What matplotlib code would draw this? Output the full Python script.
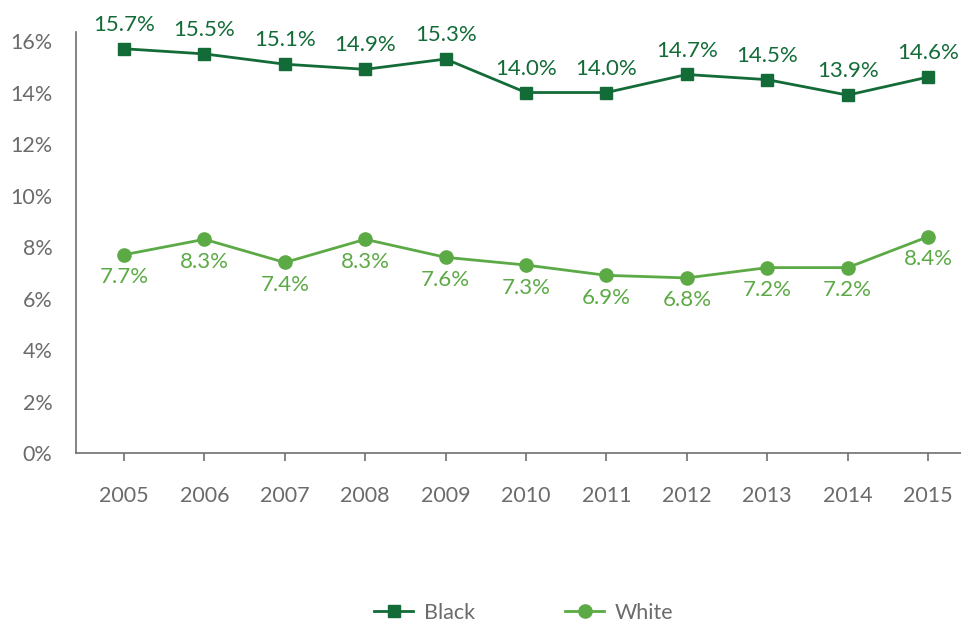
import matplotlib
matplotlib.use("Agg")
import matplotlib.pyplot as plt
from matplotlib.ticker import FuncFormatter

years = ["2005", "2006", "2007", "2008", "2009", "2010", "2011", "2012", "2013", "2014", "2015"]
black = [15.7, 15.5, 15.1, 14.9, 15.3, 14.0, 14.0, 14.7, 14.5, 13.9, 14.6]
white = [7.7, 8.3, 7.4, 8.3, 7.6, 7.3, 6.9, 6.8, 7.2, 7.2, 8.4]
y_ticks = [0, 2, 4, 6, 8, 10, 12, 14, 16]

dark_green = "#136B38"
light_green = "#5CAA45"
gray = "#6B6B6B"

plt.rcParams["font.family"] = ["Lato", "DejaVu Sans"]

fig = plt.figure(figsize=(9.61, 6.24), dpi=100)
ax = fig.add_axes([0.0791, 0.274, 0.9209, 0.6747])

x = list(range(len(years)))
ax.plot(x, black, color=dark_green, lw=2, marker="s", ms=8, label="Black")
ax.plot(x, white, color=light_green, lw=2, marker="o", ms=9.5, label="White")

for xi, v in zip(x, black):
    ax.annotate(f"{v:.1f}%", (xi, v), xytext=(0, 10), textcoords="offset points",
                ha="center", va="bottom", color=dark_green, fontsize=16)
for xi, v in zip(x, white):
    ax.annotate(f"{v:.1f}%", (xi, v), xytext=(0, -9), textcoords="offset points",
                ha="center", va="top", color=light_green, fontsize=16)

ax.set_xlim(-0.597, 10.41)
ax.set_ylim(0, 16.35)
ax.set_xticks(x)
ax.set_xticklabels(years)
ax.set_yticks(y_ticks)
ax.yaxis.set_major_formatter(FuncFormatter(lambda v, p: f"{v:.0f}%"))

for s in ["top", "right"]:
    ax.spines[s].set_visible(False)
for s in ["left", "bottom"]:
    ax.spines[s].set_color("#707070")
    ax.spines[s].set_linewidth(1.2)

ax.tick_params(axis="y", length=0, pad=17, labelsize=15.5, labelcolor=gray)
ax.tick_params(axis="x", length=6, width=1.2, color="#707070", direction="out",
               pad=18, labelsize=15.5, labelcolor=gray)

leg = fig.legend(loc="center", bbox_to_anchor=(0.545, 0.018), ncol=2, frameon=False,
                 fontsize=15.5, handlelength=1.8, columnspacing=4.2, handletextpad=0.5)
for t in leg.get_texts():
    t.set_color(gray)

fig.savefig("out.png", dpi=100)
